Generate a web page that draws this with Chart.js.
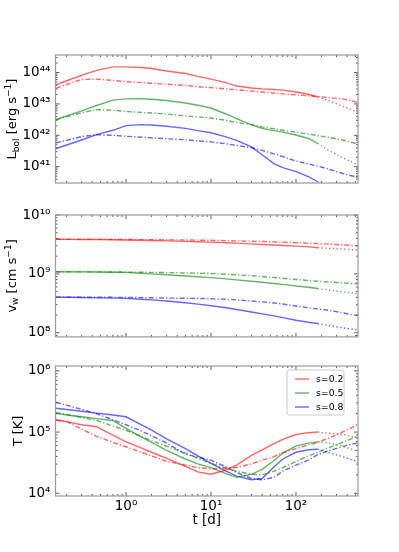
<!DOCTYPE html>
<html>
<head>
<meta charset="utf-8">
<script src="https://cdn.jsdelivr.net/npm/chart.js@4.4.1/dist/chart.umd.min.js"></script>
<style>
  html, body { margin: 0; padding: 0; background: #fff; }
  #wrap { position: relative; width: 399px; height: 552px; }
  canvas { position: absolute; left: 0; }
</style>
</head>
<body>
<div id="wrap">
  <canvas id="lumChart" width="399" height="200" style="top:0px"></canvas>
  <canvas id="velChart" width="399" height="150" style="top:200px"></canvas>
  <canvas id="tempChart" width="399" height="202" style="top:350px"></canvas>
</div>
<script>
// time grids [d]
const tMain = [0.15, 0.2, 0.3, 0.45, 0.7, 1, 1.5, 2, 3, 5, 7, 10, 15, 20, 30, 40, 55, 70, 100, 140, 180];
const tTail = [180, 250, 350, 450, 550];
const tFull = [0.15, 0.2, 0.3, 0.45, 0.7, 1, 1.5, 2, 3, 5, 7, 10, 15, 20, 30, 40, 55, 70, 100, 140, 180, 250, 350, 450, 550];

const sLabels = ['s=0.2', 's=0.5', 's=0.8'];

// axis ranges (log10) and major tick exponents
const xRange = [-0.83, 2.73];
const xTickExp = [0, 1, 2];
const lumRange = [40.48, 44.56];
const lumTickExp = [41, 42, 43, 44];
const velRange = [7.93, 10.0];
const velTickExp = [8, 9, 10];
const tempRange = [3.955, 6.08];
const tempTickExp = [4, 5, 6];

// log10 L_bol [erg/s]
const lumSolid02 = [43.61, 43.74, 43.91, 44.07, 44.18, 44.18, 44.16, 44.13, 44.05, 43.97, 43.88, 43.79, 43.68, 43.57, 43.51, 43.48, 43.46, 43.44, 43.38, 43.31, 43.22];
const lumTail02  = [43.22, 43.09, 42.93, 42.82, 42.72];
const lumDash02  = [43.50, 43.62, 43.78, 43.79, 43.75, 43.71, 43.68, 43.66, 43.63, 43.59, 43.55, 43.52, 43.48, 43.45, 43.41, 43.38, 43.35, 43.32, 43.29, 43.26, 43.24, 43.20, 43.16, 43.10, 43.03];
const lumSolid05 = [42.50, 42.62, 42.78, 42.95, 43.12, 43.16, 43.17, 43.15, 43.11, 43.03, 42.96, 42.87, 42.68, 42.53, 42.33, 42.22, 42.15, 42.10, 42.01, 41.90, 41.74];
const lumTail05  = [41.74, 41.50, 41.29, 41.15, 41.04];
const lumDash05  = [42.50, 42.59, 42.72, 42.82, 42.80, 42.76, 42.73, 42.71, 42.68, 42.62, 42.59, 42.55, 42.48, 42.41, 42.34, 42.27, 42.21, 42.16, 42.10, 42.04, 41.99, 41.93, 41.85, 41.78, 41.70];
const lumSolid08 = [41.58, 41.69, 41.85, 42.02, 42.16, 42.31, 42.34, 42.33, 42.29, 42.22, 42.15, 42.08, 41.95, 41.84, 41.63, 41.38, 41.10, 40.97, 40.84, 40.68, 40.52];
const lumTail08  = [40.52, 40.30, 40.10, 39.95, 39.80];
const lumDash08  = [41.76, 41.84, 41.96, 42.02, 42.00, 41.97, 41.94, 41.92, 41.89, 41.86, 41.82, 41.79, 41.73, 41.68, 41.60, 41.52, 41.41, 41.32, 41.18, 41.09, 41.02, 40.91, 40.79, 40.71, 40.65];

// log10 v_w [cm/s]
const velSolid02 = [9.587, 9.586, 9.585, 9.583, 9.579, 9.575, 9.570, 9.566, 9.560, 9.552, 9.546, 9.540, 9.530, 9.522, 9.510, 9.500, 9.490, 9.483, 9.472, 9.458, 9.445];
const velTail02  = [9.445, 9.433, 9.421, 9.412, 9.405];
const velDash02  = [9.587, 9.587, 9.586, 9.586, 9.585, 9.584, 9.582, 9.581, 9.579, 9.576, 9.573, 9.570, 9.565, 9.561, 9.555, 9.550, 9.543, 9.538, 9.530, 9.522, 9.515, 9.505, 9.493, 9.484, 9.476];
const velSolid05 = [9.036, 9.035, 9.034, 9.032, 9.029, 9.025, 9.012, 9.000, 8.985, 8.965, 8.952, 8.937, 8.915, 8.898, 8.875, 8.857, 8.838, 8.822, 8.795, 8.772, 8.752];
const velTail05  = [8.752, 8.725, 8.695, 8.675, 8.660];
const velDash05  = [9.036, 9.036, 9.035, 9.034, 9.033, 9.031, 9.028, 9.026, 9.022, 9.016, 9.012, 9.006, 8.995, 8.985, 8.968, 8.955, 8.938, 8.925, 8.905, 8.888, 8.876, 8.862, 8.847, 8.837, 8.830];
const velSolid08 = [8.606, 8.603, 8.598, 8.593, 8.588, 8.584, 8.570, 8.558, 8.540, 8.510, 8.487, 8.458, 8.425, 8.395, 8.352, 8.322, 8.287, 8.258, 8.212, 8.178, 8.158];
const velTail08  = [8.158, 8.120, 8.085, 8.062, 8.045];
const velDash08  = [8.606, 8.606, 8.605, 8.604, 8.602, 8.600, 8.597, 8.594, 8.590, 8.585, 8.582, 8.578, 8.568, 8.558, 8.540, 8.525, 8.505, 8.488, 8.455, 8.425, 8.405, 8.380, 8.340, 8.310, 8.290];

// log10 T [K]
const tempSolid02 = [5.197, 5.17, 5.12, 5.087, 4.95, 4.84, 4.74, 4.67, 4.57, 4.44, 4.35, 4.31, 4.38, 4.46, 4.62, 4.71, 4.81, 4.88, 4.96, 4.99, 5.00];
const tempTail02  = [5.00, 4.98, 4.96, 4.93, 4.90];
const tempDash02  = [5.197, 5.17, 5.05, 4.93, 4.83, 4.76, 4.67, 4.61, 4.52, 4.46, 4.42, 4.40, 4.41, 4.42, 4.48, 4.54, 4.60, 4.66, 4.73, 4.79, 4.83, 4.91, 5.00, 5.07, 5.14];
const tempSolid05 = [5.306, 5.28, 5.25, 5.22, 5.19, 5.06, 4.92, 4.83, 4.70, 4.56, 4.48, 4.42, 4.32, 4.26, 4.31, 4.39, 4.53, 4.66, 4.77, 4.82, 4.84];
const tempTail05  = [4.84, 4.82, 4.77, 4.72, 4.68];
const tempDash05  = [5.32, 5.29, 5.24, 5.19, 5.10, 5.03, 4.93, 4.86, 4.77, 4.66, 4.57, 4.49, 4.41, 4.36, 4.31, 4.30, 4.36, 4.42, 4.52, 4.61, 4.67, 4.75, 4.83, 4.89, 4.95];
const tempSolid08 = [5.39, 5.37, 5.34, 5.31, 5.28, 5.25, 5.12, 5.03, 4.89, 4.73, 4.61, 4.49, 4.36, 4.28, 4.22, 4.24, 4.43, 4.56, 4.67, 4.71, 4.72];
const tempTail08  = [4.72, 4.66, 4.60, 4.55, 4.51];
const tempDash08  = [5.487, 5.44, 5.37, 5.30, 5.20, 5.12, 5.02, 4.94, 4.82, 4.64, 4.59, 4.54, 4.43, 4.34, 4.24, 4.22, 4.26, 4.36, 4.46, 4.54, 4.63, 4.70, 4.76, 4.80, 4.83];

const COLORS = ['rgba(255,0,0,0.6)', 'rgba(0,128,0,0.6)', 'rgba(0,0,255,0.6)'];
const FONT = '"DejaVu Sans", sans-serif';
const SUP = {'0':'⁰','1':'¹','2':'²','3':'³','4':'⁴','5':'⁵','6':'⁶','7':'⁷','8':'⁸','9':'⁹','-':'⁻'};

const powLabel = v => '10' + String(Math.round(Math.log10(v))).split('').map(c => SUP[c]).join('');
const toPoints = (t, logv) => t.map((x, k) => ({ x: x, y: Math.pow(10, logv[k]) }));

function buildDatasets(groups) {
  const out = [];
  groups.forEach((g, i) => {
    const base = { borderColor: COLORS[i], borderWidth: 1.4, pointRadius: 0, tension: 0, fill: false };
    out.push(Object.assign({}, base, { label: sLabels[i], data: toPoints(tMain, g[0]), inLegend: true }));
    out.push(Object.assign({}, base, { label: sLabels[i] + ' (late)', data: toPoints(tTail, g[1]), borderDash: [1.4, 2.4] }));
    out.push(Object.assign({}, base, { label: sLabels[i] + ' (alt)', data: toPoints(tFull, g[2]), borderDash: [5, 2, 1.3, 2] }));
  });
  return out;
}

function logTicks(scale) {
  const out = [];
  const lo = Math.floor(Math.log10(scale.min)), hi = Math.ceil(Math.log10(scale.max));
  for (let d = lo; d <= hi; d++) {
    for (let m = 1; m <= 9; m++) {
      const v = m * Math.pow(10, d);
      if (v >= scale.min * 0.999 && v <= scale.max * 1.001) out.push([v, m === 1]);
    }
  }
  return out;
}

function drawRich(ctx, parts, cx, cy, rotate) {
  ctx.save();
  ctx.translate(cx, cy);
  if (rotate) ctx.rotate(-Math.PI / 2);
  ctx.textBaseline = 'alphabetic';
  ctx.textAlign = 'left';
  ctx.fillStyle = '#000';
  let total = 0;
  parts.forEach(p => { ctx.font = p.s + 'px ' + FONT; p.w = ctx.measureText(p.t).width; total += p.w; });
  let x = -total / 2;
  parts.forEach(p => { ctx.font = p.s + 'px ' + FONT; ctx.fillText(p.t, x, p.dy || 0); x += p.w; });
  ctx.restore();
}

// frame, inward ticks, axis titles and legend
const framePlugin = {
  id: 'frame',
  afterDraw(chart, args, o) {
    const { ctx, chartArea: a } = chart;
    const xs = chart.scales.x, ys = chart.scales.y;
    ctx.save();
    ctx.strokeStyle = '#333';
    ctx.lineWidth = 0.8;
    const seg = (x1, y1, x2, y2) => { ctx.beginPath(); ctx.moveTo(x1, y1); ctx.lineTo(x2, y2); ctx.stroke(); };
    logTicks(xs).forEach(([v, major]) => {
      const p = xs.getPixelForValue(v), len = major ? 4 : 2;
      seg(p, a.bottom, p, a.bottom - len);
      seg(p, a.top, p, a.top + len);
    });
    logTicks(ys).forEach(([v, major]) => {
      const p = ys.getPixelForValue(v), len = major ? 4 : 2;
      seg(a.left, p, a.left + len, p);
      seg(a.right, p, a.right - len, p);
    });
    ctx.strokeStyle = '#999';
    ctx.lineWidth = 1.2;
    ctx.strokeRect(a.left, a.top, a.right - a.left, a.bottom - a.top);

    drawRich(ctx, o.yTitle, o.yTitleX, (a.top + a.bottom) / 2, true);
    if (o.xTitle) drawRich(ctx, o.xTitle, (a.left + a.right) / 2, o.xTitleY, false);

    if (o.legend) {
      const items = chart.data.datasets.filter(d => d.inLegend);
      const bx = a.right - 71, by = a.top + 4, bw = 57, bh = 45;
      ctx.fillStyle = 'rgba(255,255,255,0.8)';
      ctx.strokeStyle = '#ccc';
      ctx.lineWidth = 1;
      ctx.beginPath();
      ctx.roundRect(bx, by, bw, bh, 2);
      ctx.fill();
      ctx.stroke();
      ctx.font = '9.3px ' + FONT;
      ctx.textBaseline = 'middle';
      ctx.textAlign = 'left';
      items.forEach((d, i) => {
        const y = by + 9 + i * 14;
        ctx.strokeStyle = d.borderColor;
        ctx.lineWidth = 1.4;
        seg(bx + 8, y, bx + 22, y);
        ctx.fillStyle = '#000';
        ctx.fillText(d.label, bx + 29, y + 0.5);
      });
    }
    ctx.restore();
  }
};

function makeChart(id, groups, yRange, yTickExp, pad, opts) {
  return new Chart(document.getElementById(id), {
    type: 'line',
    data: { datasets: buildDatasets(groups) },
    options: {
      responsive: false,
      animation: false,
      devicePixelRatio: 1,
      layout: { padding: pad },
      plugins: { legend: { display: false }, tooltip: { enabled: false }, frame: opts },
      scales: {
        x: {
          type: 'logarithmic',
          min: Math.pow(10, xRange[0]),
          max: Math.pow(10, xRange[1]),
          afterBuildTicks: s => { s.ticks = xTickExp.map(e => ({ value: Math.pow(10, e) })); },
          afterFit: s => { s.height = opts.xHeight; },
          ticks: { display: opts.showX, autoSkip: false, maxRotation: 0, padding: 2, color: '#000',
                   font: { family: FONT, size: 13.5 }, callback: v => powLabel(v) },
          grid: { display: false, drawTicks: false },
          border: { display: false }
        },
        y: {
          type: 'logarithmic',
          min: Math.pow(10, yRange[0]),
          max: Math.pow(10, yRange[1]),
          afterBuildTicks: s => { s.ticks = yTickExp.map(e => ({ value: Math.pow(10, e) })); },
          afterFit: s => { s.width = 55.5; },
          ticks: { autoSkip: false, padding: 5, color: '#000',
                   font: { family: FONT, size: 13.5 }, callback: v => powLabel(v) },
          grid: { display: false, drawTicks: false },
          border: { display: false }
        }
      }
    },
    plugins: [framePlugin]
  });
}

makeChart('lumChart',
  [[lumSolid02, lumTail02, lumDash02], [lumSolid05, lumTail05, lumDash05], [lumSolid08, lumTail08, lumDash08]],
  lumRange, lumTickExp,
  { top: 55, bottom: 17, left: 0, right: 41 },
  { xHeight: 0, showX: false, yTitleX: 16,
    yTitle: [{ t: 'L', s: 13 }, { t: 'bol', s: 9, dy: 2.5 }, { t: ' [erg s', s: 13 }, { t: '−1', s: 9, dy: -5 }, { t: ']', s: 13 }] });

makeChart('velChart',
  [[velSolid02, velTail02, velDash02], [velSolid05, velTail05, velDash05], [velSolid08, velTail08, velDash08]],
  velRange, velTickExp,
  { top: 15, bottom: 10, left: 0, right: 41 },
  { xHeight: 0, showX: false, yTitleX: 15.5,
    yTitle: [{ t: 'v', s: 13 }, { t: 'w', s: 9, dy: 2.5 }, { t: ' [cm s', s: 13 }, { t: '−1', s: 9, dy: -5 }, { t: ']', s: 13 }] });

makeChart('tempChart',
  [[tempSolid02, tempTail02, tempDash02], [tempSolid05, tempTail05, tempDash05], [tempSolid08, tempTail08, tempDash08]],
  tempRange, tempTickExp,
  { top: 16, bottom: 16, left: 0, right: 41 },
  { xHeight: 40, showX: true, yTitleX: 22, legend: true,
    yTitle: [{ t: 'T [K]', s: 13 }],
    xTitle: [{ t: 't [d]', s: 13.5 }], xTitleY: 174 });
</script>
</body>
</html>
